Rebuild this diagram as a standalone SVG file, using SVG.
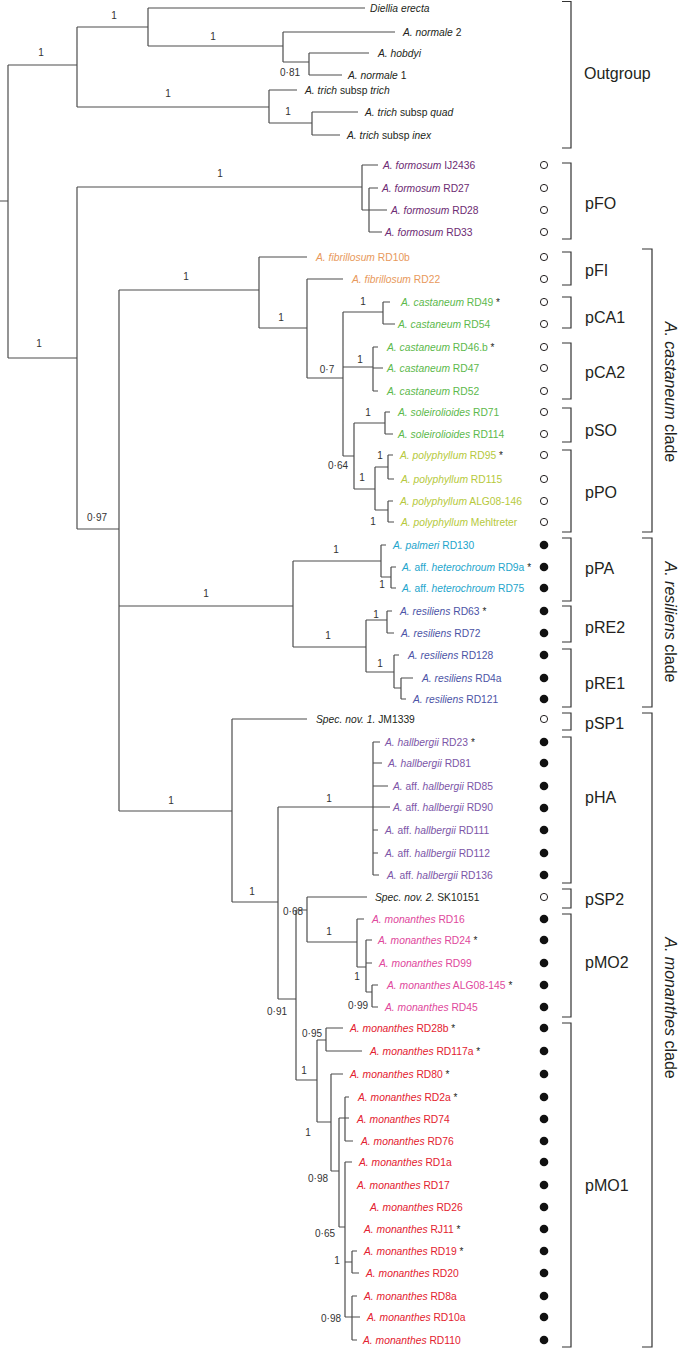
<svg xmlns="http://www.w3.org/2000/svg" width="681" height="1348" viewBox="0 0 681 1348">
<style>
text{font-family:"Liberation Sans",Arial,sans-serif;font-size:10.3px;fill:#231f20}
.i{font-style:italic}
.st{font-size:10px}
.s{font-size:10px;fill:#333;text-anchor:middle}
.g{font-size:16px;fill:#231f20}
.c{font-size:16px;fill:#231f20;text-anchor:middle}
.fo text{fill:#6d2c73}
.fi text{fill:#e8995c}
.ca text{fill:#5cb94c}
.po text{fill:#b6c93c}
.pa text{fill:#1ea5cc}
.re text{fill:#4c54a6}
.ha text{fill:#7c56a7}
.m2 text{fill:#e0489c}
.m1 text{fill:#e3222f}
.edge{fill:none;stroke:#4d4d4d;stroke-width:1.2}
.br{fill:none;stroke:#333;stroke-width:1.2}
.o{fill:#fff;stroke:#231f20;stroke-width:1}
.f{fill:#111}
</style>
<g id="connectors">
<path class="edge" d="M0,201H8 M8,65V358 M8,65H77 M8,358H77
M77,27V107 M77,27H148 M148,8V46 M148,8H365 M148,46H283 M283,32V62 M283,32H395 M283,62H309 M309,53V75 M309,53H369 M309,75H342 M77,107H269 M269,90V123 M269,90H297 M269,123H312 M312,112V135 M312,112H358 M312,135H340
M77,187V529 M77,187H362 M362,165V210 M362,165H378 M362,210H369 M369,188V232 M369,188H378 M369,210H387 M369,232H382
M77,529H119 M119,290V811 M119,290H259 M259,257V328 M259,257H307 M259,328H307 M307,279V378 M307,279H343 M307,378H343 M343,312V456 M343,312H383 M383,302V324 M383,302H390 M383,324H395 M343,367H373 M373,347V391 M373,347H378 M373,368H383 M373,391H378 M343,456H354 M354,423V489 M354,423H385 M385,412V434 M385,412H390 M385,434H393 M354,489H375 M375,467V510 M375,467H388 M388,455V479 M388,455H393 M388,479H394 M375,510H388 M388,501V522 M388,501H393 M388,522H394
M119,606H293 M293,561V647 M293,561H381 M381,545V577 M381,545H386 M381,577H391 M391,567V588 M391,567H396 M391,588H396 M293,647H366 M366,620V672 M366,620H387 M387,611V633 M387,611H392 M387,633H394 M366,672H394 M394,655V688 M394,655H399 M394,688H401 M401,678V699 M401,678H413 M401,699H406
M119,811H232 M232,719V902 M232,719H307 M232,902H278 M278,807V999 M278,807H390 M373,742V875 M373,742H380 M373,763H382 M373,786H388 M373,830H378 M373,853H378 M373,875H379
M278,999H296 M296,910V1080 M296,910H307 M307,897V942 M307,897H367 M307,942H357 M357,919V967 M357,919H364 M357,967H366 M366,940V992 M366,940H372 M366,963H372 M366,992H372 M372,985V1007 M372,985H378 M372,1007H378
M296,1080H317 M317,1040V1122 M317,1040H326 M326,1028V1051 M326,1028H343 M326,1051H362 M317,1122H331 M331,1074V1171 M331,1074H343 M331,1171H339 M339,1118V1227 M339,1118H349 M345,1097V1141 M345,1097H349 M345,1141H353 M339,1227H345 M345,1162V1317 M345,1162H352 M345,1262H352 M352,1251V1273 M352,1251H357 M352,1273H359 M345,1317H352 M352,1296V1340 M352,1296H357 M352,1317H360 M352,1340H357"/>
<path class="br" d="M562,1.5H571V148H562 M562,163H571V239H562 M562,252H571V285H562 M562,297H571V328H562 M562,343H571V399H562 M562,408H571V442H562 M562,450H571V532H562 M562,538H571V601H562 M562,606H571V642H562 M562,649H571V707H562 M562,713H571V730H562 M562,737H571V883H562 M562,889H571V908H562 M562,914H571V1017H562 M562,1023H571V1347H562 M642,249H652V532H642 M642,538H652V707H642 M642,713H652V1347H642"/>
</g>
<g id="supports">
<text class="s" x="41" y="56">1</text><text class="s" x="114" y="19">1</text><text class="s" x="213" y="40">1</text><text class="s" x="290" y="76">0·81</text><text class="s" x="168" y="97">1</text><text class="s" x="288" y="115">1</text>
<text class="s" x="39" y="347">1</text><text class="s" x="220" y="177">1</text><text class="s" x="97" y="521">0·97</text><text class="s" x="186" y="280">1</text><text class="s" x="281" y="321">1</text><text class="s" x="327" y="373">0·7</text><text class="s" x="363" y="305">1</text><text class="s" x="360" y="363">1</text><text class="s" x="368" y="416">1</text><text class="s" x="338" y="469">0·64</text><text class="s" x="380" y="459">1</text><text class="s" x="362" y="481">1</text><text class="s" x="373" y="525">1</text>
<text class="s" x="206" y="597">1</text><text class="s" x="336" y="553">1</text><text class="s" x="382" y="588">1</text><text class="s" x="328" y="639">1</text><text class="s" x="376" y="618">1</text><text class="s" x="380" y="667">1</text>
<text class="s" x="171" y="804">1</text><text class="s" x="329" y="802">1</text><text class="s" x="252" y="895">1</text><text class="s" x="293" y="915">0·68</text><text class="s" x="329" y="935">1</text><text class="s" x="357" y="980">1</text><text class="s" x="358" y="1009">0·99</text><text class="s" x="277" y="1015">0·91</text><text class="s" x="312" y="1037">0·95</text><text class="s" x="304" y="1074">1</text><text class="s" x="308" y="1136">1</text><text class="s" x="318" y="1182">0·98</text><text class="s" x="325" y="1237">0·65</text><text class="s" x="337" y="1264">1</text><text class="s" x="331" y="1322">0·98</text>
</g>
<g id="outgroup">
<g id="t-diellia"><text x="370" y="11.5" class="i">Diellia erecta</text></g>
<g id="t-normale2"><text x="403" y="35.5"><tspan class="i">A. normale</tspan> 2</text></g>
<g id="t-hobdyi"><text x="378" y="56.5" class="i">A. hobdyi</text></g>
<g id="t-normale1"><text x="348" y="78.5"><tspan class="i">A. normale</tspan> 1</text></g>
<g id="t-trich"><text x="305" y="93.5"><tspan class="i">A. trich</tspan> subsp <tspan class="i">trich</tspan></text></g>
<g id="t-quad"><text x="365" y="115.5"><tspan class="i">A. trich</tspan> subsp <tspan class="i">quad</tspan></text></g>
<g id="t-inex"><text x="347" y="138.5"><tspan class="i">A. trich</tspan> subsp <tspan class="i">inex</tspan></text></g>
</g>
<g class="fo">
<g id="t-IJ2436"><text x="383" y="168.5"><tspan class="i">A. formosum</tspan> IJ2436</text><circle class="o" cx="544" cy="165" r="3.6"/></g>
<g id="t-RD27"><text x="382" y="191.5"><tspan class="i">A. formosum</tspan> RD27</text><circle class="o" cx="544" cy="188" r="3.6"/></g>
<g id="t-RD28"><text x="391" y="213.5"><tspan class="i">A. formosum</tspan> RD28</text><circle class="o" cx="544" cy="210" r="3.6"/></g>
<g id="t-RD33"><text x="385" y="235.5"><tspan class="i">A. formosum</tspan> RD33</text><circle class="o" cx="544" cy="232" r="3.6"/></g>
</g>
<g class="fi">
<g id="t-RD10b"><text x="316" y="260.5"><tspan class="i">A. fibrillosum</tspan> RD10b</text><circle class="o" cx="544" cy="257" r="3.6"/></g>
<g id="t-RD22"><text x="352" y="282.5"><tspan class="i">A. fibrillosum</tspan> RD22</text><circle class="o" cx="544" cy="279" r="3.6"/></g>
</g>
<g class="ca">
<g id="t-RD49"><text x="401" y="305.5"><tspan class="i">A. castaneum</tspan> RD49 <tspan class="st" fill="#231f20">*</tspan></text><circle class="o" cx="544" cy="302" r="3.6"/></g>
<g id="t-RD54"><text x="398" y="327.5"><tspan class="i">A. castaneum</tspan> RD54</text><circle class="o" cx="544" cy="324" r="3.6"/></g>
<g id="t-RD46b"><text x="387" y="350.5"><tspan class="i">A. castaneum</tspan> RD46.b <tspan class="st" fill="#231f20">*</tspan></text><circle class="o" cx="544" cy="347" r="3.6"/></g>
<g id="t-RD47"><text x="387" y="371.5"><tspan class="i">A. castaneum</tspan> RD47</text><circle class="o" cx="544" cy="368" r="3.6"/></g>
<g id="t-RD52"><text x="387" y="394.5"><tspan class="i">A. castaneum</tspan> RD52</text><circle class="o" cx="544" cy="391" r="3.6"/></g>
<g id="t-RD71"><text x="398" y="415.5"><tspan class="i">A. soleirolioides</tspan> RD71</text><circle class="o" cx="544" cy="412" r="3.6"/></g>
<g id="t-RD114"><text x="398" y="437.5"><tspan class="i">A. soleirolioides</tspan> RD114</text><circle class="o" cx="544" cy="434" r="3.6"/></g>
</g>
<g class="po">
<g id="t-RD95"><text x="400" y="458.5"><tspan class="i">A. polyphyllum</tspan> RD95 <tspan class="st" fill="#231f20">*</tspan></text><circle class="o" cx="544" cy="455" r="3.6"/></g>
<g id="t-RD115"><text x="401" y="482.5"><tspan class="i">A. polyphyllum</tspan> RD115</text><circle class="o" cx="544" cy="479" r="3.6"/></g>
<g id="t-ALG08-146"><text x="400" y="504.5"><tspan class="i">A. polyphyllum</tspan> ALG08-146</text><circle class="o" cx="544" cy="501" r="3.6"/></g>
<g id="t-Mehltreter"><text x="401" y="525.5"><tspan class="i">A. polyphyllum</tspan> Mehltreter</text><circle class="o" cx="544" cy="522" r="3.6"/></g>
</g>
<g class="pa">
<g id="t-RD130"><text x="393" y="548.5"><tspan class="i">A. palmeri</tspan> RD130</text><circle class="f" cx="544" cy="545" r="4.3"/></g>
<g id="t-RD9a"><text x="402" y="570.5"><tspan class="i">A.</tspan> aff. <tspan class="i">heterochroum</tspan> RD9a <tspan class="st" fill="#231f20">*</tspan></text><circle class="f" cx="544" cy="567" r="4.3"/></g>
<g id="t-RD75"><text x="402" y="591.5"><tspan class="i">A.</tspan> aff. <tspan class="i">heterochroum</tspan> RD75</text><circle class="f" cx="544" cy="588" r="4.3"/></g>
</g>
<g class="re">
<g id="t-RD63"><text x="400" y="614.5"><tspan class="i">A. resiliens</tspan> RD63 <tspan class="st" fill="#231f20">*</tspan></text><circle class="f" cx="544" cy="611" r="4.3"/></g>
<g id="t-RD72"><text x="401" y="636.5"><tspan class="i">A. resiliens</tspan> RD72</text><circle class="f" cx="544" cy="633" r="4.3"/></g>
<g id="t-RD128"><text x="408" y="658.5"><tspan class="i">A. resiliens</tspan> RD128</text><circle class="f" cx="544" cy="655" r="4.3"/></g>
<g id="t-RD4a"><text x="422" y="681.5"><tspan class="i">A. resiliens</tspan> RD4a</text><circle class="f" cx="544" cy="678" r="4.3"/></g>
<g id="t-RD121"><text x="413" y="702.5"><tspan class="i">A. resiliens</tspan> RD121</text><circle class="f" cx="544" cy="699" r="4.3"/></g>
</g>
<g id="t-JM1339"><text x="316" y="722.5"><tspan class="i">Spec. nov. 1.</tspan> JM1339</text><circle class="o" cx="544" cy="719" r="3.6"/></g>
<g class="ha">
<g id="t-RD23"><text x="385" y="745.5"><tspan class="i">A. hallbergii</tspan> RD23 <tspan class="st" fill="#231f20">*</tspan></text><circle class="f" cx="544" cy="742" r="4.3"/></g>
<g id="t-RD81"><text x="388" y="766.5"><tspan class="i">A. hallbergii</tspan> RD81</text><circle class="f" cx="544" cy="763" r="4.3"/></g>
<g id="t-RD85"><text x="393" y="789.5"><tspan class="i">A.</tspan> aff. <tspan class="i">hallbergii</tspan> RD85</text><circle class="f" cx="544" cy="786" r="4.3"/></g>
<g id="t-RD90"><text x="393" y="810.5"><tspan class="i">A.</tspan> aff. <tspan class="i">hallbergii</tspan> RD90</text><circle class="f" cx="544" cy="808" r="4.3"/></g>
<g id="t-RD111"><text x="385" y="833.5"><tspan class="i">A.</tspan> aff. <tspan class="i">hallbergii</tspan> RD111</text><circle class="f" cx="544" cy="830" r="4.3"/></g>
<g id="t-RD112"><text x="385" y="856.5"><tspan class="i">A.</tspan> aff. <tspan class="i">hallbergii</tspan> RD112</text><circle class="f" cx="544" cy="853" r="4.3"/></g>
<g id="t-RD136"><text x="387" y="878.5"><tspan class="i">A.</tspan> aff. <tspan class="i">hallbergii</tspan> RD136</text><circle class="f" cx="544" cy="875" r="4.3"/></g>
</g>
<g id="t-SK10151"><text x="375" y="900.5"><tspan class="i">Spec. nov. 2.</tspan> SK10151</text><circle class="o" cx="544" cy="897" r="3.6"/></g>
<g class="m2">
<g id="t-RD16"><text x="372" y="922.5"><tspan class="i">A. monanthes</tspan> RD16</text><circle class="f" cx="544" cy="919" r="4.3"/></g>
<g id="t-RD24"><text x="378" y="943.5"><tspan class="i">A. monanthes</tspan> RD24 <tspan class="st" fill="#231f20">*</tspan></text><circle class="f" cx="544" cy="940" r="4.3"/></g>
<g id="t-RD99"><text x="379" y="966.5"><tspan class="i">A. monanthes</tspan> RD99</text><circle class="f" cx="544" cy="963" r="4.3"/></g>
<g id="t-ALG08-145"><text x="387" y="988.5"><tspan class="i">A. monanthes</tspan> ALG08-145 <tspan class="st" fill="#231f20">*</tspan></text><circle class="f" cx="544" cy="985" r="4.3"/></g>
<g id="t-RD45"><text x="385" y="1010.5"><tspan class="i">A. monanthes</tspan> RD45</text><circle class="f" cx="544" cy="1007" r="4.3"/></g>
</g>
<g class="m1">
<g id="t-RD28b"><text x="350" y="1031.5"><tspan class="i">A. monanthes</tspan> RD28b <tspan class="st" fill="#231f20">*</tspan></text><circle class="f" cx="544" cy="1028" r="4.3"/></g>
<g id="t-RD117a"><text x="370" y="1054.5"><tspan class="i">A. monanthes</tspan> RD117a <tspan class="st" fill="#231f20">*</tspan></text><circle class="f" cx="544" cy="1051" r="4.3"/></g>
<g id="t-RD80"><text x="350" y="1077.5"><tspan class="i">A. monanthes</tspan> RD80 <tspan class="st" fill="#231f20">*</tspan></text><circle class="f" cx="544" cy="1074" r="4.3"/></g>
<g id="t-RD2a"><text x="358" y="1100.5"><tspan class="i">A. monanthes</tspan> RD2a <tspan class="st" fill="#231f20">*</tspan></text><circle class="f" cx="544" cy="1097" r="4.3"/></g>
<g id="t-RD74"><text x="357" y="1122.5"><tspan class="i">A. monanthes</tspan> RD74</text><circle class="f" cx="544" cy="1119" r="4.3"/></g>
<g id="t-RD76"><text x="361" y="1144.5"><tspan class="i">A. monanthes</tspan> RD76</text><circle class="f" cx="544" cy="1141" r="4.3"/></g>
<g id="t-RD1a"><text x="359" y="1165.5"><tspan class="i">A. monanthes</tspan> RD1a</text><circle class="f" cx="544" cy="1162" r="4.3"/></g>
<g id="t-RD17"><text x="357" y="1188.5"><tspan class="i">A. monanthes</tspan> RD17</text><circle class="f" cx="544" cy="1185" r="4.3"/></g>
<g id="t-RD26"><text x="370" y="1210.5"><tspan class="i">A. monanthes</tspan> RD26</text><circle class="f" cx="544" cy="1207" r="4.3"/></g>
<g id="t-RJ11"><text x="364" y="1232.5"><tspan class="i">A. monanthes</tspan> RJ11 <tspan class="st" fill="#231f20">*</tspan></text><circle class="f" cx="544" cy="1229" r="4.3"/></g>
<g id="t-RD19"><text x="364" y="1254.5"><tspan class="i">A. monanthes</tspan> RD19 <tspan class="st" fill="#231f20">*</tspan></text><circle class="f" cx="544" cy="1251" r="4.3"/></g>
<g id="t-RD20"><text x="366" y="1276.5"><tspan class="i">A. monanthes</tspan> RD20</text><circle class="f" cx="544" cy="1273" r="4.3"/></g>
<g id="t-RD8a"><text x="364" y="1299.5"><tspan class="i">A. monanthes</tspan> RD8a</text><circle class="f" cx="544" cy="1296" r="4.3"/></g>
<g id="t-RD10a"><text x="367" y="1320.5"><tspan class="i">A. monanthes</tspan> RD10a</text><circle class="f" cx="544" cy="1317" r="4.3"/></g>
<g id="t-RD110"><text x="363" y="1343.5"><tspan class="i">A. monanthes</tspan> RD110</text><circle class="f" cx="544" cy="1340" r="4.3"/></g>
</g>
<g id="groups">
<text class="g" x="584" y="79">Outgroup</text>
<text class="g" x="585" y="209">pFO</text>
<text class="g" x="585" y="276">pFI</text>
<text class="g" x="585" y="323">pCA1</text>
<text class="g" x="585" y="378">pCA2</text>
<text class="g" x="585" y="436">pSO</text>
<text class="g" x="585" y="498">pPO</text>
<text class="g" x="585" y="574">pPA</text>
<text class="g" x="585" y="633">pRE2</text>
<text class="g" x="585" y="689">pRE1</text>
<text class="g" x="585" y="729">pSP1</text>
<text class="g" x="585" y="803">pHA</text>
<text class="g" x="585" y="905">pSP2</text>
<text class="g" x="585" y="968">pMO2</text>
<text class="g" x="585" y="1191">pMO1</text>
<text class="c" transform="translate(665,392) rotate(90)"><tspan class="i">A. castaneum</tspan> clade</text>
<text class="c" transform="translate(665,622) rotate(90)"><tspan class="i">A. resiliens</tspan> clade</text>
<text class="c" transform="translate(665,1008) rotate(90)"><tspan class="i">A. monanthes</tspan> clade</text>
</g>
</svg>
